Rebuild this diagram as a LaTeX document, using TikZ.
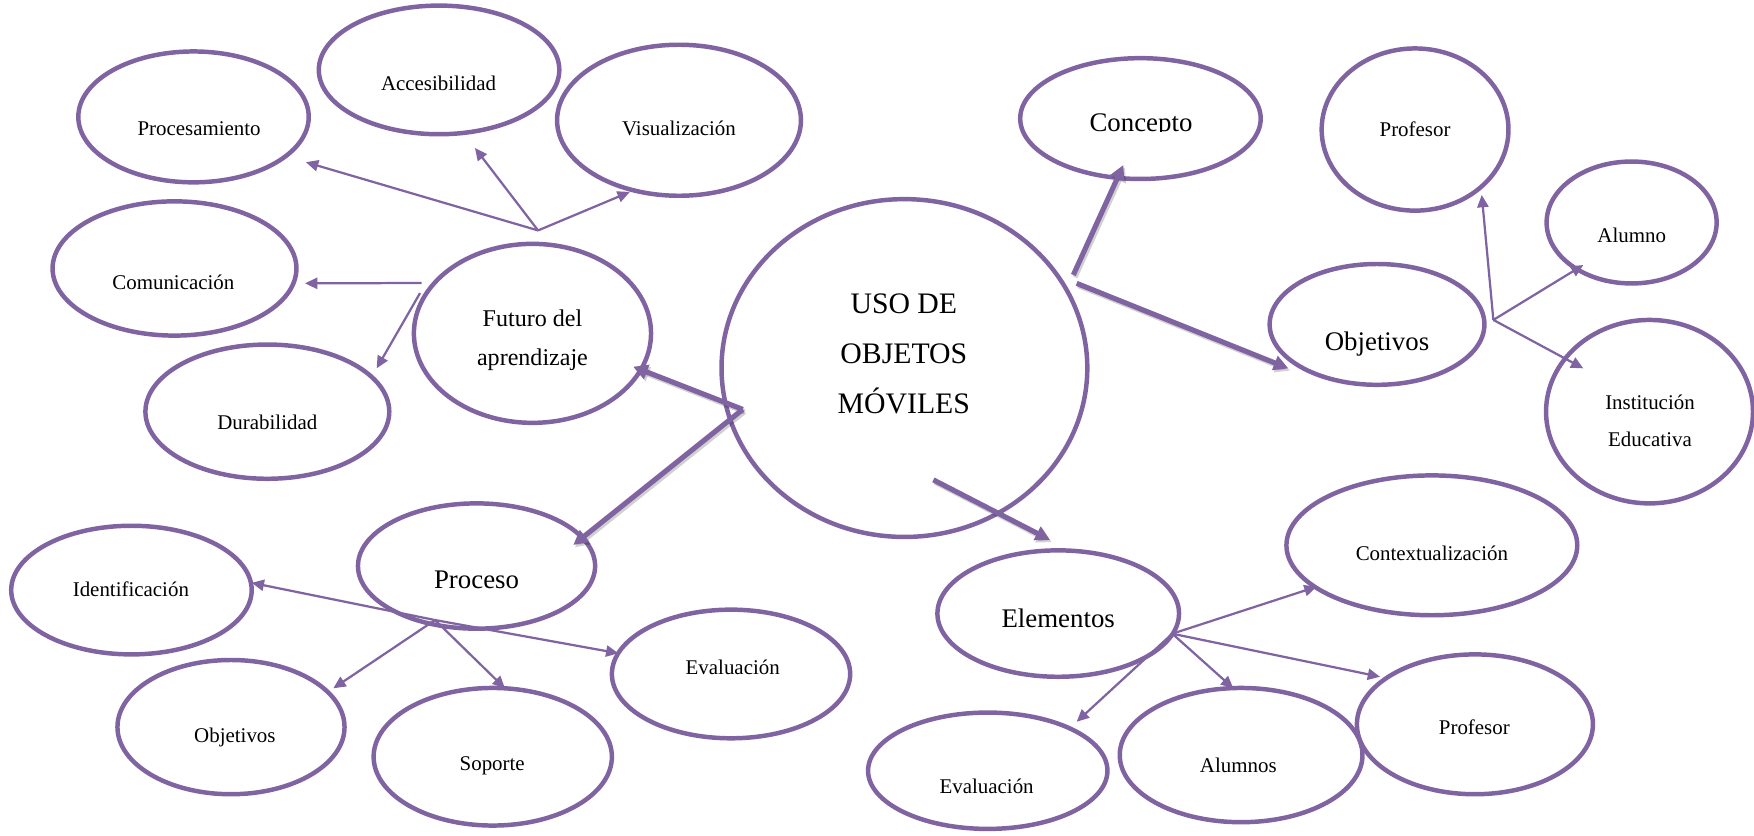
\documentclass[tikz,border=0pt]{standalone}
\usepackage{fontspec}
\setmainfont{Liberation Serif}
\usetikzlibrary{shapes.geometric,arrows.meta}
\definecolor{pur}{HTML}{8064A2}
\begin{document}
\begin{tikzpicture}[x=1pt,y=-1pt,
  ell/.style={ellipse, draw=pur, line width=4pt, fill=white, inner sep=0pt},
  sm/.style={font=\fontsize{18.7}{20}\selectfont, anchor=base, inner sep=0pt},
  fu/.style={font=\fontsize{21.5}{23}\selectfont, anchor=base, inner sep=0pt},
  md/.style={font=\fontsize{24}{26}\selectfont, anchor=base, inner sep=0pt},
  bg/.style={font=\fontsize{26.6}{28}\selectfont, anchor=base, inner sep=0pt},
  thinarrow/.style={draw=pur, line width=2pt, -{Triangle[length=11pt,width=10pt]}},
  thickarrow/.style={draw=pur, line width=4.6pt, -{Triangle[length=13pt,width=13pt]},
    preaction={draw=black, opacity=0.18, line width=4.6pt, transform canvas={shift={(1.5pt,-2pt)}}}},
]
\useasboundingbox (0,0) rectangle (1568,746.5);

% ellipses
\node[ell, minimum width=206pt, minimum height=117pt] (proc) at (173,104.5) {};
\node[ell, minimum width=215pt, minimum height=115pt] (acce) at (392.5,62.5) {};
\node[ell, minimum width=218pt, minimum height=135pt] (visu) at (607,107.5) {};
\node[ell, minimum width=218pt, minimum height=120pt] (comu) at (156,240) {};
\node[ell, minimum width=218pt, minimum height=120pt] (dura) at (239,368) {};
\node[ell, minimum width=212pt, minimum height=160pt] (futu) at (476,298) {};
\node[ell, minimum width=327pt, minimum height=302pt] (main) at (808.5,329) {};
\node[ell, minimum width=215pt, minimum height=108pt] (conc) at (1019.5,106) {};
\node[ell, minimum width=167pt, minimum height=145pt] (profA) at (1265,115.8) {};
\node[ell, minimum width=152pt, minimum height=109pt] (alum) at (1458.6,198.9) {};
\node[ell, minimum width=192pt, minimum height=108pt] (objA) at (1231,290) {};
\node[ell, minimum width=185pt, minimum height=164pt] (inst) at (1474.6,368) {};
\node[ell, minimum width=260pt, minimum height=125pt] (cont) at (1280,487.5) {};
\node[ell, minimum width=216pt, minimum height=113pt] (elem) at (946,548.5) {};
\node[ell, minimum width=212pt, minimum height=112pt] (proce) at (426,506) {};
\node[ell, minimum width=215pt, minimum height=115pt] (iden) at (117.5,527.5) {};
\node[ell, minimum width=213pt, minimum height=115pt] (evalA) at (653.5,602.5) {};
\node[ell, minimum width=203pt, minimum height=120pt] (objB) at (206.5,650) {};
\node[ell, minimum width=213pt, minimum height=123pt] (sopo) at (440.5,676.5) {};
\node[ell, minimum width=214pt, minimum height=104pt] (evalB) at (883,689) {};
\node[ell, minimum width=217pt, minimum height=120pt] (alumn) at (1109.5,675) {};
\node[ell, minimum width=211pt, minimum height=125pt] (profB) at (1318.5,647.5) {};

% texts
\node[sm] (procT) at (178,121) {Procesamiento};
\node[sm] (acceT) at (392,81) {Accesibilidad};
\node[sm] (visuT) at (607,121) {Visualización};
\node[sm] (comuT) at (155,259) {Comunicación};
\node[sm] (duraT) at (239,384) {Durabilidad};
\node[fu] (futuT1) at (476,292) {Futuro del};
\node[fu] (futuT2) at (476,327) {aprendizaje};
\node[bg] (mainT1) at (808,280) {USO DE};
\node[bg] (mainT2) at (808,324.8) {OBJETOS};
\node[bg] (mainT3) at (808,369.5) {MÓVILES};
\begin{scope}
  \clip (900,80) rectangle (1140,118);
  \node[md] (concT) at (1020,118) {Concepto};
\end{scope}
\node[sm] (profAT) at (1265,121.6) {Profesor};
\node[sm] (alumT) at (1458.7,217) {Alumno};
\node[md] (objAT) at (1231,312.9) {Objetivos};
\node[sm] (instT1) at (1475,366.5) {Institución};
\node[sm] (instT2) at (1475,399.3) {Educativa};
\node[sm] (contT) at (1280,501) {Contextualización};
\node[md] (elemT) at (946,561) {Elementos};
\node[md] (proceT) at (426,526) {Proceso};
\node[sm] (idenT) at (117,533) {Identificación};
\node[sm] (evalAT) at (655,603) {Evaluación};
\node[sm] (objBT) at (210,664) {Objetivos};
\node[sm] (sopoT) at (440,689) {Soporte};
\node[sm] (evalBT) at (882,709.2) {Evaluación};
\node[sm] (alumnT) at (1107,691) {Alumnos};
\node[sm] (profBT) at (1318,657) {Profesor};

% hubs and tips
\coordinate (hubF) at (481,206);
\coordinate (tProc) at (273.5,145);
\coordinate (tAcce) at (424.6,132.3);
\coordinate (tVisu) at (563,171.6);
\coordinate (sComu) at (377,253);
\coordinate (tComu) at (272.7,253.3);
\coordinate (sDura) at (375.5,262);
\coordinate (tDura) at (336.7,329.3);

\coordinate (sMainL) at (664,366);
\coordinate (tFutu) at (566,327.8);
\coordinate (tProce) at (512.5,487.2);
\coordinate (sMainB) at (834.4,429);
\coordinate (tElem) at (938.7,482.7);
\coordinate (sMainC) at (959.5,245.8);
\coordinate (tConc) at (1004.2,147.5);
\coordinate (sMainO) at (962.5,253.3);
\coordinate (tObjA) at (1151.7,329.3);

\coordinate (hubO) at (1335,286);
\coordinate (tProfA) at (1324.6,174.3);
\coordinate (tAlum) at (1415.4,236.9);
\coordinate (tInst) at (1415.4,329.3);

\coordinate (hubE) at (1048,566.5);
\coordinate (tCont) at (1177,524.5);
\coordinate (tAlumn) at (1102.5,615.3);
\coordinate (tProfB) at (1233.7,605);
\coordinate (tEvalB) at (962.5,645.2);

\coordinate (hubP) at (388.9,554.3);
\coordinate (tIden) at (225,521);
\coordinate (tEvalA) at (552.8,584);
\coordinate (tObjB) at (298,615.3);
\coordinate (tSopo) at (451.4,615.3);

% thin arrows
\draw[thinarrow] (hubF) -- (tProc);
\draw[thinarrow] (hubF) -- (tAcce);
\draw[thinarrow] (hubF) -- (tVisu);
\draw[thinarrow] (sComu) -- (tComu);
\draw[thinarrow] (sDura) -- (tDura);
\draw[thinarrow] (hubO) -- (tProfA);
\draw[thinarrow] (hubO) -- (tAlum);
\draw[thinarrow] (hubO) -- (tInst);
\draw[thinarrow] (hubE) -- (tCont);
\draw[thinarrow] (hubE) -- (tAlumn);
\draw[thinarrow] (hubE) -- (tProfB);
\draw[thinarrow] (hubE) -- (tEvalB);
\draw[thinarrow] (hubP) -- (tIden);
\draw[thinarrow] (hubP) -- (tEvalA);
\draw[thinarrow] (hubP) -- (tObjB);
\draw[thinarrow] (hubP) -- (tSopo);

% thick arrows
\draw[thickarrow] (sMainL) -- (tFutu);
\draw[thickarrow] (sMainL) -- (tProce);
\draw[thickarrow] (sMainB) -- (tElem);
\draw[thickarrow] (sMainC) -- (tConc);
\draw[thickarrow] (sMainO) -- (tObjA);
\end{tikzpicture}
\end{document}
